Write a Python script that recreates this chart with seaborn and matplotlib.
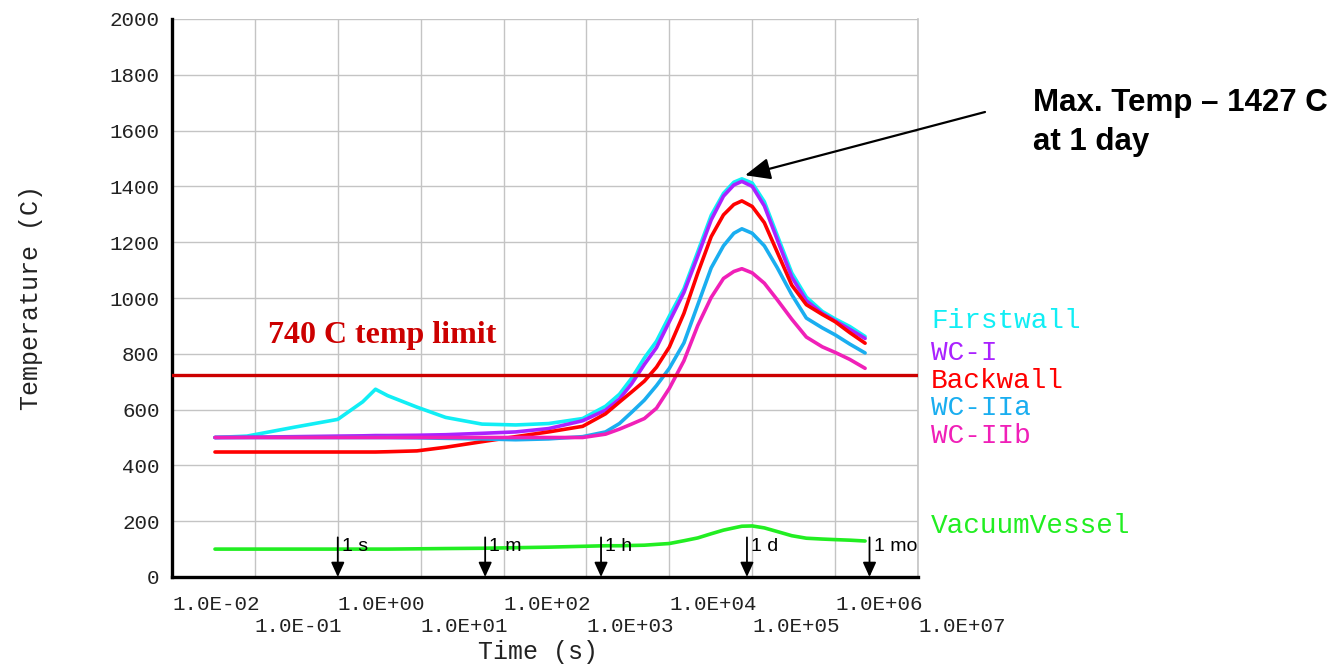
import numpy as np
import pandas as pd
import matplotlib
matplotlib.use("Agg")
import matplotlib.pyplot as plt
import seaborn as sns

# time points (s) and temperatures (C)
time_s = [0.033, 0.08, 0.3, 1, 2, 2.85, 4, 9, 20, 55, 140, 350, 900, 1700, 2500,
          3500, 5000, 7000, 1e4, 1.5e4, 2.2e4, 3.2e4, 4.5e4, 6e4, 7.5e4, 1e5,
          1.4e5, 2e5, 3e5, 4.5e5, 7e5, 1e6, 1.5e6, 2.3e6]

firstwall = [500, 505, 537, 565, 628, 673, 650, 609, 572, 548, 545, 550, 568, 612, 655,
             712, 785, 845, 935, 1033, 1165, 1296, 1375, 1415, 1427, 1412,
             1345, 1225, 1090, 1003, 952, 925, 898, 862]
wc_i = [500, 501, 503, 505, 506, 507, 507, 508, 510, 515, 520, 532, 560, 598, 638,
        692, 762, 822, 915, 1020, 1150, 1280, 1365, 1405, 1418, 1400,
        1330, 1210, 1075, 990, 945, 918, 888, 855]
backwall = [448, 448, 448, 448, 448, 448, 449, 452, 465, 485, 503, 520, 540, 585, 627,
            663, 702, 752, 824, 945, 1089, 1220, 1298, 1335, 1348, 1328,
            1270, 1165, 1046, 976, 941, 915, 876, 838]
wc_iia = [500, 500, 500, 500, 500, 500, 500, 499, 497, 495, 492, 495, 503, 520, 550,
          590, 634, 686, 748, 839, 975, 1108, 1187, 1232, 1248, 1232,
          1187, 1109, 1012, 928, 893, 868, 835, 803]
wc_iib = [500, 500, 500, 500, 500, 500, 500, 500, 500, 500, 500, 500, 500, 512, 530,
          548, 568, 605, 676, 775, 901, 1002, 1070, 1095, 1105, 1090,
          1053, 994, 924, 860, 825, 805, 780, 748]
vacuum = [100, 100, 100, 100, 100, 100, 100, 101, 102, 103, 105, 107, 110, 112, 112,
          113, 114, 117, 120, 130, 140, 155, 168, 176, 182, 183,
          176, 163, 148, 139, 136, 134, 132, 129]

series_names = ["Firstwall", "WC-I", "Backwall", "WC-IIa", "WC-IIb", "VacuumVessel"]
colors = ["#11EEF5", "#AA22FF", "#FF0000", "#1AAEF0", "#F020B8", "#22EE22"]

limit_temp = 725
marker_times = [1, 60, 1500, 86400, 2.6e6]
marker_labels = ["1 s", "1 m", "1 h", "1 d", "1 mo"]
peak_time, peak_temp = 82000, 1440

df = pd.DataFrame({"time": time_s, "Firstwall": firstwall, "WC-I": wc_i,
                   "Backwall": backwall, "WC-IIa": wc_iia, "WC-IIb": wc_iib,
                   "VacuumVessel": vacuum})
long = df.melt(id_vars="time", var_name="series", value_name="temp")

sns.set_style("white")
mono = "Liberation Mono"
txt_gray = "#222222"

W, H = 1339, 664
fig = plt.figure(figsize=(W / 100, H / 100), dpi=100)
ax = fig.add_axes([172 / W, 1 - 577 / H, (918 - 172) / W, (577 - 19) / H])
ax.set_xscale("log")

sns.lineplot(data=long, x="time", y="temp", hue="series", hue_order=series_names,
             palette=dict(zip(series_names, colors)), estimator=None,
             lw=2.6, legend=False, ax=ax)

ax.axhline(limit_temp, color="#CC0000", lw=2.4, zorder=3)

ax.set_xlim(1e-2, 1e7)
ax.set_ylim(0, 2000)
xt = 10.0 ** np.arange(-2, 8)
ax.set_xticks(xt)
labs = []
for i, v in enumerate(xt):
    s = f"{v:.1E}"
    labs.append(s if i % 2 == 0 else "\n" + s)
ax.set_xticklabels(labs, fontfamily=mono, fontsize=15, color=txt_gray, ha="left")
ax.xaxis.set_minor_locator(matplotlib.ticker.LogLocator(base=10, subs=np.arange(2, 10)))
ax.xaxis.set_minor_formatter(matplotlib.ticker.NullFormatter())
ax.set_yticks(np.arange(0, 2001, 200))
ax.set_yticklabels([str(v) for v in range(0, 2001, 200)], fontfamily=mono,
                   fontsize=15, color=txt_gray)

ax.tick_params(axis="x", which="major", direction="out", length=9, width=1,
               color="#B0B0B0", pad=4)
ax.tick_params(axis="x", which="minor", direction="out", length=5, width=1,
               color="#B0B0B0")
ax.tick_params(axis="y", which="major", direction="out", length=7, width=1,
               color="#B0B0B0", pad=2)

ax.grid(True, which="major", color="#C4C4C4", lw=1)
ax.spines["top"].set_visible(False)
ax.spines["right"].set_color("#C4C4C4")
ax.spines["right"].set_linewidth(1.2)
for side in ["left", "bottom"]:
    ax.spines[side].set_color("black")
    ax.spines[side].set_linewidth(2.4)

ax.set_xlabel("Time (s)", fontfamily=mono, fontsize=18, color=txt_gray)
ax.set_ylabel("Temperature (C)", fontfamily=mono, fontsize=18, color=txt_gray)
ax.xaxis.set_label_coords((538 - 172) / 746, -(640 - 577) / 558)
ax.yaxis.set_label_coords(-(172 - 43) / 746, 0.5)

# limit label
ax.text(268 / W, 1 - 343 / H, "740 C temp limit", transform=fig.transFigure,
        fontfamily="Liberation Serif", fontweight="bold", fontsize=23,
        color="#CC0000", va="baseline", ha="left")

# time markers
for t, lab in zip(marker_times, marker_labels):
    ax.annotate("", xy=(t, 0), xytext=(t, 142),
                arrowprops=dict(arrowstyle="-|>,head_length=0.55,head_width=0.25",
                                color="black", lw=1.3, shrinkA=0, shrinkB=0,
                                mutation_scale=16), zorder=5)
    ax.annotate(lab, xy=(t, 92), xytext=(3, 0), textcoords="offset points",
                fontfamily="Liberation Sans", fontsize=14, color="black",
                va="baseline", ha="left", zorder=5)

# peak annotation
ax.annotate("", xy=(peak_time, peak_temp), xytext=(985 / W, 1 - 112 / H),
            textcoords="figure fraction", annotation_clip=False,
            arrowprops=dict(arrowstyle="-|>,head_length=0.7,head_width=0.3",
                            color="black", lw=1.6, shrinkA=0, shrinkB=0,
                            mutation_scale=22))
fig.text(1033 / W, 1 - 111 / H, "Max. Temp \u2013 1427 C", fontfamily="Liberation Sans",
         fontweight="bold", fontsize=22.5, color="black", va="baseline", ha="left")
fig.text(1033 / W, 1 - 150 / H, "at 1 day", fontfamily="Liberation Sans",
         fontweight="bold", fontsize=22.5, color="black", va="baseline", ha="left")

# series labels on the right
label_base = [328, 360, 388, 415, 443, 533]
for name, col, yb in zip(series_names, colors, label_base):
    fig.text(931 / W, 1 - yb / H, name, fontfamily=mono, fontsize=20,
             color=col, va="baseline", ha="left")

fig.savefig("out.png", dpi=100)
